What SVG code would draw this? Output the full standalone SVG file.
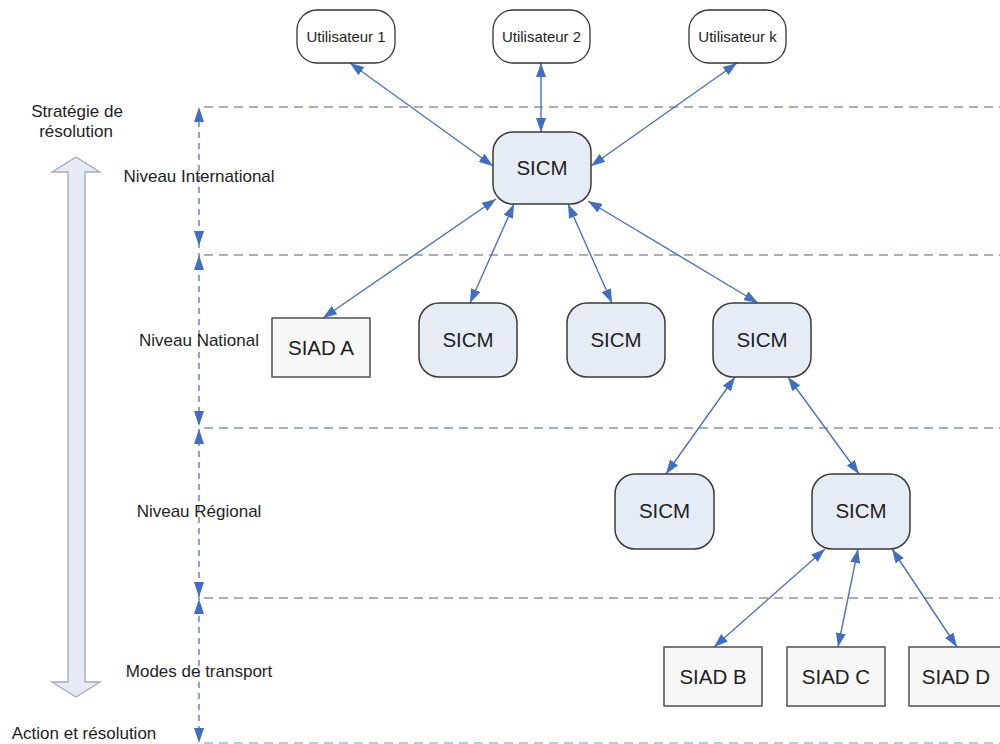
<svg xmlns="http://www.w3.org/2000/svg" width="1000" height="744" viewBox="0 0 1000 744">
<defs>
<style>
text{font-family:"Liberation Sans",Arial,sans-serif;fill:#1e1e1e;text-anchor:middle}
.lvl{font-size:17px}
.usr{font-size:15px}
.big{font-size:20.5px}
.sicm{fill:#e6ecf6;stroke:#3a3a3a;stroke-width:1.5}
.siad{fill:#f7f7f7;stroke:#505050;stroke-width:1.5}
.user{fill:#ffffff;stroke:#333333;stroke-width:1.3}
.hd{stroke:#8797ae;stroke-width:1.5;stroke-dasharray:9 6;fill:none}
.vd{stroke:#5a7ec0;stroke-width:1.4;stroke-dasharray:6 5;fill:none}
.con{stroke:#4a74c0;stroke-width:1.4;fill:none;marker-start:url(#ah);marker-end:url(#ah)}
.tri{fill:#3f6fc4}
</style>
<marker id="ah" viewBox="0 0 14 10" refX="14" refY="5" markerWidth="14" markerHeight="10" markerUnits="userSpaceOnUse" orient="auto-start-reverse">
<path d="M0,0 L14,5 L0,10 z" fill="#3f6fc4"/>
</marker>
</defs>

<g id="levels">
<line class="hd" x1="204" y1="107" x2="1000" y2="107"/>
<line class="hd" x1="204" y1="255" x2="1000" y2="255"/>
<line class="hd" x1="204" y1="428" x2="1000" y2="428"/>
<line class="hd" x1="204" y1="598" x2="1000" y2="598"/>
<line class="hd" x1="204" y1="743" x2="1000" y2="743" style="stroke:#8fc3e3"/>
<line class="vd" x1="199" y1="110" x2="199" y2="740"/>
<path class="tri" d="M199,107 L194,122 L204,122 z"/>
<path class="tri" d="M199,246 L194,231 L204,231 z"/>
<path class="tri" d="M199,255 L194,270 L204,270 z"/>
<path class="tri" d="M199,426 L194,411 L204,411 z"/>
<path class="tri" d="M199,429 L194,444 L204,444 z"/>
<path class="tri" d="M199,597 L194,582 L204,582 z"/>
<path class="tri" d="M199,599 L194,614 L204,614 z"/>
<path class="tri" d="M199,743 L194,728 L204,728 z"/>
<text class="lvl" x="199" y="182">Niveau International</text>
<text class="lvl" x="199" y="346">Niveau National</text>
<text class="lvl" x="199" y="517">Niveau Régional</text>
<text class="lvl" x="199" y="677">Modes de transport</text>
</g>

<g id="strategy-arrow">
<path d="M76,157 L100,172 L85,172 L85,682 L100,682 L76,697 L52,682 L68,682 L68,172 L52,172 z" fill="#e4ebf5" stroke="#a3aab8" stroke-width="1.3"/>
<text class="lvl" x="77" y="117">Stratégie de</text>
<text class="lvl" x="76" y="137">résolution</text>
<text class="lvl" x="84" y="739">Action et résolution</text>
</g>

<g id="connectors">
<line class="con" x1="350" y1="63" x2="493" y2="166"/>
<line class="con" x1="541" y1="63" x2="541" y2="132"/>
<line class="con" x1="737" y1="63" x2="591" y2="166"/>
<line class="con" x1="496" y1="199" x2="323" y2="318"/>
<line class="con" x1="514" y1="204" x2="470" y2="303"/>
<line class="con" x1="568" y1="204" x2="612" y2="303"/>
<line class="con" x1="588" y1="201" x2="758" y2="303"/>
<line class="con" x1="735" y1="377" x2="666" y2="474"/>
<line class="con" x1="788" y1="377" x2="859" y2="474"/>
<line class="con" x1="825" y1="549" x2="714" y2="647"/>
<line class="con" x1="858" y1="549" x2="838" y2="647"/>
<line class="con" x1="892" y1="549" x2="957" y2="647"/>
</g>

<g id="user1"><rect class="user" x="297" y="10" width="98" height="53" rx="20"/><text class="usr" x="346" y="42">Utilisateur 1</text></g>
<g id="user2"><rect class="user" x="493" y="10" width="97" height="53" rx="20"/><text class="usr" x="541.5" y="42">Utilisateur 2</text></g>
<g id="userk"><rect class="user" x="689" y="10" width="97" height="53" rx="20"/><text class="usr" x="737.5" y="42">Utilisateur k</text></g>

<g id="sicm-int"><rect class="sicm" x="493" y="132" width="98" height="72" rx="20"/><text class="big" x="542" y="175">SICM</text></g>

<g id="siad-a"><rect class="siad" x="272" y="318" width="98" height="59"/><text class="big" x="321" y="355">SIAD A</text></g>
<g id="sicm-nat1"><rect class="sicm" x="419" y="303" width="98" height="74" rx="20"/><text class="big" x="468" y="347">SICM</text></g>
<g id="sicm-nat2"><rect class="sicm" x="567" y="303" width="98" height="74" rx="20"/><text class="big" x="616" y="347">SICM</text></g>
<g id="sicm-nat3"><rect class="sicm" x="713" y="303" width="98" height="74" rx="20"/><text class="big" x="762" y="347">SICM</text></g>

<g id="sicm-reg1"><rect class="sicm" x="615" y="474" width="99" height="75" rx="20"/><text class="big" x="664.5" y="518">SICM</text></g>
<g id="sicm-reg2"><rect class="sicm" x="812" y="474" width="98" height="75" rx="20"/><text class="big" x="861" y="518">SICM</text></g>

<g id="siad-b"><rect class="siad" x="664" y="647" width="98" height="59"/><text class="big" x="713" y="684">SIAD B</text></g>
<g id="siad-c"><rect class="siad" x="787" y="647" width="98" height="59"/><text class="big" x="836" y="684">SIAD C</text></g>
<g id="siad-d"><rect class="siad" x="909" y="647" width="98" height="59"/><text class="big" x="956" y="684">SIAD D</text></g>
</svg>
